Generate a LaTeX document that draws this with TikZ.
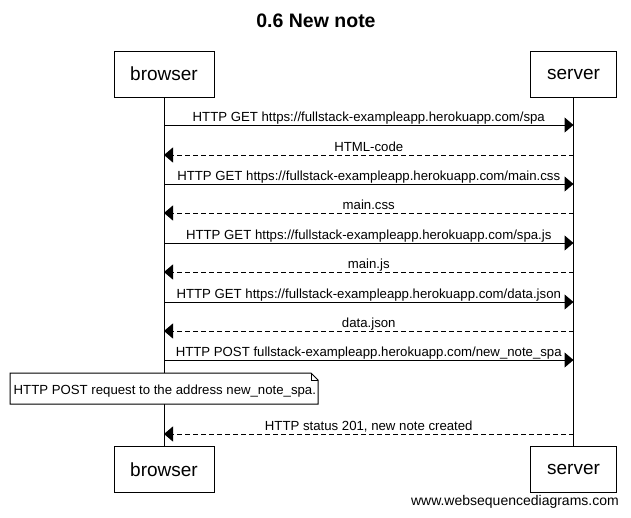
\documentclass[tikz,border=0pt]{standalone}
\usepackage{fontspec}
\setmainfont{Liberation Sans}
\usetikzlibrary{arrows.meta}
\begin{document}
\begin{tikzpicture}[x=1pt,y=-1pt,
  actor/.style={draw, line width=1pt, minimum height=46pt, inner sep=0pt, font=\fontsize{19}{22}\selectfont},
  lifeline/.style={line width=1pt},
  msg/.style={line width=1pt, -{Triangle[length=9pt,width=15pt]}},
  reply/.style={msg, dash pattern=on 5pt off 3pt},
  lbl/.style={font=\fontsize{13.2}{15}\selectfont, anchor=base, inner sep=0pt, yshift=4pt},
  notebox/.style={draw, line width=1pt, fill=white}]
\useasboundingbox (0,0) rectangle (631,517);
\node[font=\bfseries\fontsize{19.5}{22}\selectfont, anchor=base, inner sep=0pt] (title) at (316,27) {0.6 New note};
\node[actor, minimum width=100pt] (b1) at (164,74) {browser};
\node[actor, minimum width=86pt] (s1) at (573.5,74) {server};
\node[actor, minimum width=100pt] (b2) at (164,469.5) {browser};
\node[actor, minimum width=86pt] (s2) at (573.5,469.5) {server};
\draw[lifeline] (b1.south) -- (b2.north);
\draw[lifeline] (s1.south) -- (s2.north);
\foreach \i/\y in {1/125,2/155,3/184,4/213,5/243,6/272,7/302,8/331,9/360,10/434}{
  \coordinate (bl\i) at (164,\y);
  \coordinate (sl\i) at (573.5,\y);
}
\draw[msg] (bl1) -- node[lbl] {HTTP GET https://fullstack-exampleapp.herokuapp.com/spa} (sl1);
\draw[reply] (sl2) -- node[lbl] {HTML-code} (bl2);
\draw[msg] (bl3) -- node[lbl] {HTTP GET https://fullstack-exampleapp.herokuapp.com/main.css} (sl3);
\draw[reply] (sl4) -- node[lbl] {main.css} (bl4);
\draw[msg] (bl5) -- node[lbl] {HTTP GET https://fullstack-exampleapp.herokuapp.com/spa.js} (sl5);
\draw[reply] (sl6) -- node[lbl] {main.js} (bl6);
\draw[msg] (bl7) -- node[lbl] {HTTP GET https://fullstack-exampleapp.herokuapp.com/data.json} (sl7);
\draw[reply] (sl8) -- node[lbl] {data.json} (bl8);
\draw[msg] (bl9) -- node[lbl] {HTTP POST fullstack-exampleapp.herokuapp.com/new\_note\_spa} (sl9);
\draw[reply] (sl10) -- node[lbl] {HTTP status 201, new note created} (bl10);
% note
\coordinate (n1) at (10,373);
\coordinate (n2) at (311,373);
\coordinate (n3) at (318,380);
\coordinate (n4) at (318,404);
\coordinate (n5) at (10,404);
\draw[notebox] (n1) -- (n2) -- (n3) -- (n4) -- (n5) -- cycle;
\draw[line width=1pt] (n2) -- (n2 |- n3) -- (n3);
\node[font=\fontsize{13.2}{15}\selectfont, anchor=base west, inner sep=0pt] (note) at (13.5,394) {HTTP POST request to the address new\_note\_spa.};
\node[font=\fontsize{14}{16}\selectfont, anchor=base east, inner sep=0pt] (wm) at (619,505) {www.websequencediagrams.com};
\end{tikzpicture}
\end{document}
